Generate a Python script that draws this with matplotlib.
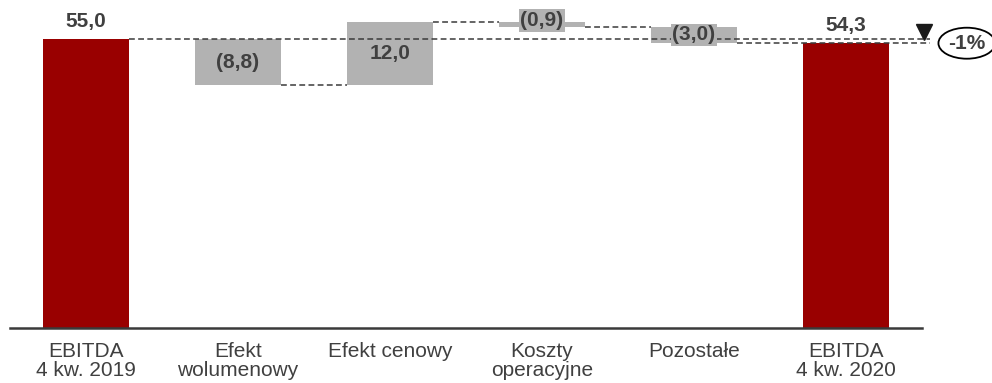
import matplotlib.pyplot as plt

plt.rcParams['font.family'] = ['Liberation Sans', 'DejaVu Sans']

# EBITDA bridge, 4 kw. 2019 -> 4 kw. 2020 (mln zł)
categories = ['EBITDA\n4 kw. 2019', 'Efekt\nwolumenowy', 'Efekt cenowy',
              'Koszty\noperacyjne', 'Pozostałe', 'EBITDA\n4 kw. 2020']
start_value = 55.0
changes = [-8.8, 12.0, -0.9, -3.0]
end_value = 54.3
change_pct = -1

red = '#990000'
grey = '#b2b2b2'
text_col = '#404040'
line_col = '#3a3a3a'


def fmt(v):
    s = f'{abs(v):.1f}'.replace('.', ',')
    return f'({s})' if v < 0 else s


fig = plt.figure(figsize=(9.92, 3.83), dpi=100)
ax = fig.add_axes([10 / 992, 55 / 383, 912 / 992, 315.27 / 383])

width = 0.56
# running totals before/after each step
totals = [start_value]
for c in changes:
    totals.append(totals[-1] + c)

ax.bar(0, start_value, width, color=red, zorder=2)
ax.bar(5, end_value, width, color=red, zorder=2)
for i, c in enumerate(changes, start=1):
    lo = min(totals[i - 1], totals[i])
    ax.bar(i, abs(c), width, bottom=lo, color=grey, zorder=2)

# dashed connectors
dash = dict(color=line_col, lw=1.1, dashes=(3.8, 2.2), zorder=3, clip_on=False)
x_end = 5.55
ax.plot([0 + width / 2, x_end], [start_value, start_value], **dash)
for i in range(1, 4):
    ax.plot([i + width / 2, i + 1 - width / 2], [totals[i], totals[i]], **dash)
ax.plot([4 + width / 2, x_end], [end_value, end_value], **dash)

# value labels
lbl = dict(ha='center', va='center', fontsize=15, fontweight='bold', color=text_col)
ax.annotate(fmt(start_value), (0, start_value), xytext=(0, 12.5),
            textcoords='offset points', **lbl)
ax.annotate(fmt(end_value), (5, end_value), xytext=(0, 12.5),
            textcoords='offset points', **lbl)
for i, c in enumerate(changes, start=1):
    mid = (totals[i - 1] + totals[i]) / 2
    if abs(c) < 5:
        ax.text(i, mid + (0.8 if abs(c) < 2 else 0), fmt(c), zorder=4,
                bbox=dict(boxstyle='square,pad=0.08', fc=grey, ec='none'), **lbl)
    else:
        ax.text(i, mid, fmt(c), zorder=4, **lbl)

# change marker and percentage
ax.plot(5.51, 56.25, marker='v', ms=11, color='#1a1a1a', clip_on=False, zorder=5)
ax.text(5.795, 54.2, f'{change_pct}%', ha='center', va='center', fontsize=15,
        fontweight='bold', color=text_col, clip_on=False, zorder=5,
        bbox=dict(boxstyle='ellipse,pad=0.07', fc='white', ec='black', lw=1.3))

ax.set_xlim(-0.5, 5.5)
ax.set_ylim(0, 60)
ax.set_xticks(range(len(categories)))
ax.set_xticklabels(categories, fontsize=15, color=text_col, linespacing=1.0)
ax.tick_params(axis='x', length=0, pad=10)
ax.set_yticks([])
for side in ['top', 'left', 'right']:
    ax.spines[side].set_visible(False)
ax.spines['bottom'].set_color(line_col)
ax.spines['bottom'].set_linewidth(1.8)

fig.savefig('out.png', dpi=100)
